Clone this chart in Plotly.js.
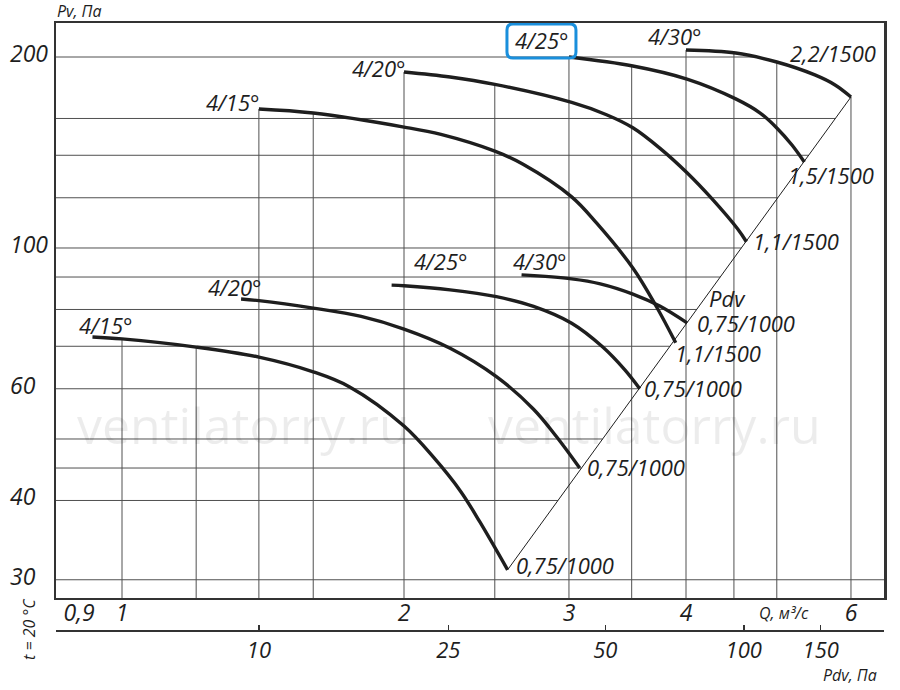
<!DOCTYPE html>
<html>
<head>
<meta charset="utf-8">
<script src="https://cdn.plot.ly/plotly-3.0.1.min.js"></script>
<style>html,body{margin:0;padding:0;background:#fff}#chart{width:900px;height:690px}</style>
</head>
<body>
<div id="chart"></div>
<script>
// ---------- DATA ----------
// Q, m3/s  ->  Pv, Pa   (0,75 kW / 1000 rpm group)
const qA = [0.93, 1.0, 1.2, 1.4, 1.6, 1.75, 2.0, 2.15, 2.3, 2.41, 2.58];
const pA = [72.4, 71.9, 69.8, 67.3, 63.8, 60.4, 52.4, 46.8, 41.3, 37.0, 31.1];
const qB = [1.34, 1.4, 1.6, 1.8, 2.0, 2.24, 2.51, 2.75, 2.91, 3.08];
const pB = [83.1, 82.6, 80.4, 78.0, 74.5, 69.5, 62.7, 55.7, 50.4, 45.0];
const qC = [1.94, 2.0, 2.24, 2.51, 2.75, 3.02, 3.26, 3.44, 3.57];
const pC = [87.4, 87.2, 85.9, 83.8, 80.9, 76.1, 69.8, 64.3, 60.0];
const qD = [2.67, 3.02, 3.24, 3.51, 3.75, 4.01];
const pD = [90.7, 89.4, 87.8, 84.6, 81.0, 76.2];
// 1500 rpm group
const qE = [1.4, 1.6, 2.0, 2.19, 2.5, 2.68, 3.02, 3.21, 3.51, 3.72, 3.90];
const pE = [165.6, 163.2, 155.1, 151.0, 142.1, 135.5, 120.4, 109.5, 93.0, 80.8, 70.9];
const qF = [2.0, 2.24, 2.5, 3.02, 3.29, 3.51, 3.75, 4.01, 4.26, 4.54, 4.64];
const pF = [189.4, 186.0, 181.1, 169.6, 162.2, 154.7, 143.7, 131.4, 119.7, 107.2, 102.3];
const qG = [3.0, 3.51, 4.01, 4.52, 4.80, 5.0, 5.19, 5.35];
const pG = [200.0, 193.6, 184.6, 171.8, 163.2, 154.6, 145.3, 136.6];
const qH = [4.0, 4.52, 5.0, 5.49, 5.77, 6.0];
const pH = [205.1, 202.9, 196.4, 187.4, 180.7, 173.0];
// dynamic-pressure (Pdv) line through the curve ends
const pdvLineQ = [2.58, 6.0];
const pdvLineP = [31.1, 173.0];

const curveNames = ['4/15°', '4/20°', '4/25°', '4/30°', '4/15°', '4/20°', '4/25°', '4/30°'];
const endLabels = ['0,75/1000', '0,75/1000', '0,75/1000', '0,75/1000', '1,1/1500', '1,1/1500', '1,5/1500', '2,2/1500'];

// axis ticks
const qTickVals = [0.9, 1, 2, 3, 4, 6];
const qTickText = ['0,9', '1', '2', '3', '4', '6'];
const pTickVals = [30, 40, 60, 100, 200];
const pTickText = ['30', '40', '60', '100', '200'];
const pdvTickText = ['10', '25', '50', '100', '150'];
const pdvTickQ = [1.40, 2.23, 3.28, 4.61, 5.57];   // where the Pdv ticks sit on the Q scale
const gridQ = [1, 1.2, 1.4, 1.6, 2, 2.5, 3, 3.5, 4, 4.5, 5, 6];
const gridP = [30, 40, 45, 50, 60, 70, 80, 90, 100, 120, 140, 160, 200];

// ---------- helpers ----------
const FONT = '"Open Sans", "Liberation Sans", Arial, sans-serif';
const INK = '#1e1e1e';
const X_RANGE = [-0.07045, 0.81341];
const Y_RANGE = [1.44838, 2.35461];
const lg = Math.log10;

const curves = [
  {q: qA, p: pA}, {q: qB, p: pB}, {q: qC, p: pC}, {q: qD, p: pD},
  {q: qE, p: pE}, {q: qF, p: pF}, {q: qG, p: pG}, {q: qH, p: pH}
];

function interpAt(qs, ps, q) {
  if (q < qs[0] - 1e-9 || q > qs[qs.length - 1] + 1e-9) return null;
  for (let i = 0; i < qs.length - 1; i++) {
    if (q >= qs[i] - 1e-9 && q <= qs[i + 1] + 1e-9) {
      const t = (lg(q) - lg(qs[i])) / (lg(qs[i + 1]) - lg(qs[i]));
      return Math.pow(10, lg(ps[i]) + t * (lg(ps[i + 1]) - lg(ps[i])));
    }
  }
  return null;
}
function crossAt(qs, ps, p) {
  let best = null;
  for (let i = 0; i < qs.length - 1; i++) {
    const a = ps[i], b = ps[i + 1];
    if ((p - a) * (p - b) <= 0 && a !== b) {
      const t = (lg(p) - lg(a)) / (lg(b) - lg(a));
      const q = Math.pow(10, lg(qs[i]) + t * (lg(qs[i + 1]) - lg(qs[i])));
      if (best === null || q > best) best = q;
    }
  }
  return best;
}

const xMin = Math.pow(10, X_RANGE[0]), xMax = Math.pow(10, X_RANGE[1]);
const yMin = Math.pow(10, Y_RANGE[0]);

// ---------- grid (ends at curves / Pdv line, as in the original) ----------
const GRID = {color: '#505050', width: 1};
const shapes = [];
gridQ.forEach(gq => {
  let top = null;
  curves.forEach(c => { const v = interpAt(c.q, c.p, gq); if (v !== null && (top === null || v > top)) top = v; });
  if (top === null) return;
  shapes.push({type: 'line', xref: 'x', yref: 'y', x0: gq, x1: gq, y0: yMin, y1: top, line: GRID, layer: 'below'});
});
gridP.forEach(gp => {
  let right = crossAt(pdvLineQ, pdvLineP, gp);
  curves.forEach(c => { const v = crossAt(c.q, c.p, gp); if (v !== null && (right === null || v > right)) right = v; });
  if (right === null) right = xMax;
  shapes.push({type: 'line', xref: 'x', yref: 'y', x0: xMin, x1: right, y0: gp, y1: gp, line: GRID, layer: 'below'});
});
// rounded blue frame around the highlighted "4/25°" label (anchored to the curve start, pixel-sized)
shapes.push({
  type: 'path', xref: 'x', yref: 'y', xsizemode: 'pixel', ysizemode: 'pixel',
  xanchor: qG[0], yanchor: pG[0],
  path: 'M -56,-1 L 1,-1 Q 7,-1 7,5 L 7,27 Q 7,33 1,33 L -56,33 Q -62,33 -62,27 L -62,5 Q -62,-1 -56,-1 Z',
  line: {color: '#1a8fdc', width: 3}, fillcolor: 'rgba(0,0,0,0)', layer: 'above'
});

// ---------- traces ----------
const traces = [];
traces.push({
  x: pdvLineQ, y: pdvLineP, mode: 'lines', line: {color: INK, width: 1},
  hoverinfo: 'skip', showlegend: false
});
curves.forEach(c => {
  traces.push({
    x: c.q, y: c.p, mode: 'lines',
    line: {color: INK, width: 3.4, shape: 'spline', smoothing: 1.0},
    hoverinfo: 'skip', showlegend: false
  });
});
// anchor trace for the Pdv scale axis
traces.push({x: [null], y: [null], xaxis: 'x2', yaxis: 'y', mode: 'markers', hoverinfo: 'skip', showlegend: false});

// ---------- annotations ----------
const lblFont = {family: FONT, size: 22, color: INK, style: 'italic'};
const nameOffsets = [[14, 12], [-6, 12], [49, 24], [18, 14], [-26, 7], [-25, 4], [-27, 17], [-11, 14]];
const endOffsets = [[6, 5], [5, 1], [2, 1], [8, 0], [-3, -10], [5, 1], [-18, -13], [-63, 44]];
const annotations = [];
curves.forEach((c, i) => {
  const n = c.q.length - 1;
  annotations.push({
    x: lg(c.q[0]), y: lg(c.p[0]), xref: 'x', yref: 'y', text: curveNames[i], showarrow: false,
    xanchor: 'center', yanchor: 'middle', xshift: nameOffsets[i][0], yshift: nameOffsets[i][1], font: lblFont
  });
  annotations.push({
    x: lg(c.q[n]), y: lg(c.p[n]), xref: 'x', yref: 'y', text: endLabels[i], showarrow: false,
    xanchor: 'left', yanchor: 'middle', xshift: endOffsets[i][0], yshift: endOffsets[i][1], font: lblFont
  });
});
annotations.push({
  x: lg(qD[qD.length - 1]), y: lg(pD[pD.length - 1]), xref: 'x', yref: 'y', text: 'Pdv', showarrow: false,
  xanchor: 'left', yanchor: 'middle', xshift: 20, yshift: 25, font: lblFont
});
pTickVals.forEach((v, i) => {
  annotations.push({
    x: -0.058, y: lg(v), xref: 'paper', yref: 'y', text: pTickText[i], showarrow: false,
    xanchor: 'left', yanchor: 'middle', yshift: 4, font: {family: FONT, size: 23, color: INK, style: 'italic'}
  });
});
const small = {family: FONT, size: 16, color: INK, style: 'italic'};
annotations.push({x: 0.0278, y: 1.0197, xref: 'paper', yref: 'paper', text: 'Pv, Па', showarrow: false, xanchor: 'center', yanchor: 'middle', font: small});
annotations.push({x: 0.879, y: 0.0296, xref: 'paper', yref: 'paper', text: 'Q, м³/с', showarrow: false, xanchor: 'center', yanchor: 'middle', font: small});
annotations.push({x: 0.959, y: -0.0935, xref: 'paper', yref: 'paper', text: 'Pdv, Па', showarrow: false, xanchor: 'center', yanchor: 'bottom', font: small});
annotations.push({x: -0.0326, y: 0.0033, xref: 'paper', yref: 'paper', text: 't = 20 °C', textangle: -90, showarrow: false, xanchor: 'center', yanchor: 'middle', font: small});
const wm = {family: FONT, size: 50, color: 'rgba(0,0,0,0.075)'};
annotations.push({x: 0.227, y: 0.339, xref: 'paper', yref: 'paper', text: 'ventilatorry.ru', showarrow: false, xanchor: 'center', yanchor: 'middle', font: wm});
annotations.push({x: 0.723, y: 0.339, xref: 'paper', yref: 'paper', text: 'ventilatorry.ru', showarrow: false, xanchor: 'center', yanchor: 'middle', font: wm});

// ---------- layout ----------
const layout = {
  width: 900, height: 690,
  margin: {l: 56, r: 16, t: 23, b: 59, pad: 0},
  paper_bgcolor: '#fff', plot_bgcolor: '#fff',
  showlegend: false,
  xaxis: {
    type: 'log', range: X_RANGE, anchor: 'y', fixedrange: true,
    showline: true, mirror: true, linecolor: '#333', linewidth: 2.5,
    showgrid: false, zeroline: false, ticks: '', ticklabelstandoff: -7,
    tickmode: 'array', tickvals: qTickVals, ticktext: qTickText,
    tickfont: {family: FONT, size: 23, color: INK, style: 'italic'}
  },
  xaxis2: {
    type: 'log', range: X_RANGE, overlaying: 'x', anchor: 'free', position: 0, side: 'bottom', fixedrange: true,
    showline: true, linecolor: '#333', linewidth: 2,
    showgrid: false, zeroline: false, ticks: 'inside', ticklen: 5, tickwidth: 1.5, tickcolor: '#333',
    tickmode: 'array', tickvals: pdvTickQ, ticktext: pdvTickText,
    tickfont: {family: FONT, size: 22, color: INK, style: 'italic'}
  },
  yaxis: {
    type: 'log', range: Y_RANGE, domain: [0.0543, 1], fixedrange: true,
    showline: true, mirror: true, linecolor: '#333', linewidth: 2.5,
    showgrid: false, zeroline: false, ticks: '', showticklabels: false
  },
  shapes: shapes,
  annotations: annotations
};

Plotly.newPlot('chart', traces, layout, {displayModeBar: false, staticPlot: true});
</script>
</body>
</html>
